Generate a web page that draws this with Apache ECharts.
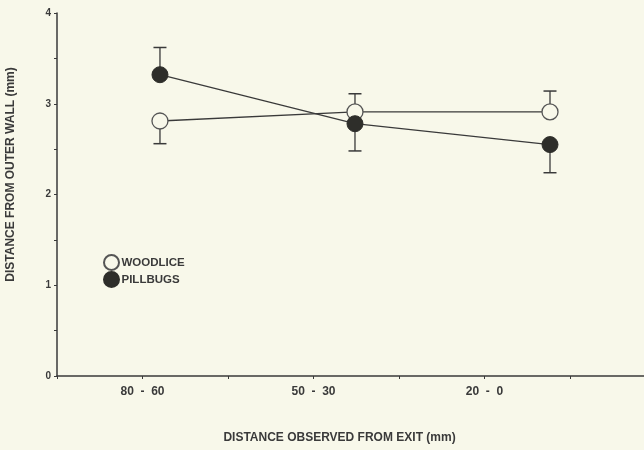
<!DOCTYPE html>
<html><head><meta charset="utf-8">
<script src="https://cdn.jsdelivr.net/npm/echarts@6/dist/echarts.min.js"></script>
<style>html,body{margin:0;padding:0;background:#f8f8ea}#c{width:644px;height:450px}</style>
</head><body><div id="c"></div><script>
const categories = ['80 - 60', '50 - 30', '20 - 0'];
const woodlice = [2.81, 2.91, 2.91];
const pillbugs = [3.32, 2.78, 2.55];
const woodliceErrEnd = [2.56, 3.11, 3.14];
const pillbugsErrEnd = [3.62, 2.48, 2.24];
const yTickLabels = ['0', '1', '2', '3', '4'];

const BG = '#f8f8ea';
const INK = '#3a3a3a';
const FONT = 'Liberation Sans, Arial, sans-serif';

function errData(vals, ends) { return vals.map((v, i) => [i, v, ends[i]]); }
function errRender(params, api) {
  const x = api.value(0);
  const p0 = api.coord([x, api.value(1)]);
  const p1 = api.coord([x, api.value(2)]);
  const cap = 6.5;
  return { type: 'group', children: [
    { type: 'line', shape: { x1: p0[0], y1: p0[1], x2: p1[0], y2: p1[1] }, style: { stroke: INK, lineWidth: 1.3 } },
    { type: 'line', shape: { x1: p1[0] - cap, y1: p1[1], x2: p1[0] + cap, y2: p1[1] }, style: { stroke: INK, lineWidth: 1.5 } }
  ]};
}

const chart = echarts.init(document.getElementById('c'));
chart.setOption({
  backgroundColor: BG,
  animation: false,
  textStyle: { fontFamily: FONT },
  grid: { left: 57, right: 0, top: 13, bottom: 74, containLabel: false, outerBoundsMode: 'none' },
  legend: {
    data: ['WOODLICE', 'PILLBUGS'], orient: 'vertical', left: 103, top: 254, padding: 0,
    icon: 'circle', itemWidth: 16, itemHeight: 15, itemGap: 0,
    textStyle: { fontFamily: FONT, fontWeight: 'bold', fontSize: 11.5, color: INK, padding: [0, 0, 0, -3] }
  },
  xAxis: [
    {
      type: 'value', min: -0.5, max: 2.933, interval: 0.5,
      name: 'DISTANCE OBSERVED FROM EXIT (mm)', nameLocation: 'middle', nameGap: 56,
      nameTextStyle: { fontFamily: FONT, fontWeight: 'bold', fontSize: 12, color: INK, padding: [0, 22, 0, 0] },
      axisLine: { onZero: false, lineStyle: { color: INK, width: 1.5 } },
      axisTick: { length: 3, lineStyle: { color: INK } },
      splitLine: { show: false },
      axisLabel: {
        margin: 10, fontFamily: FONT, fontWeight: 'bold', fontSize: 12, color: INK,
        formatter: v => Number.isInteger(v) && categories[v] ? categories[v].replace(/ /g, '  ') : ''
      }
    },
    { type: 'value', min: -0.528, max: 2.482, show: false }
  ],
  yAxis: {
    type: 'value', min: 0, max: 4, interval: 0.5,
    name: 'DISTANCE FROM OUTER WALL (mm)', nameLocation: 'middle', nameGap: 40,
    nameTextStyle: { fontFamily: FONT, fontWeight: 'bold', fontSize: 12, color: INK, padding: [0, 0, 0, 40] },
    axisLine: { show: true, onZero: false, lineStyle: { color: INK, width: 1.5 } },
    axisTick: { show: true, length: 3, lineStyle: { color: INK } },
    splitLine: { show: false },
    axisLabel: {
      margin: 6, fontFamily: FONT, fontWeight: 'bold', fontSize: 10, color: INK,
      formatter: v => Number.isInteger(v) ? yTickLabels[v] : ''
    }
  },
  series: [
    { type: 'custom', xAxisIndex: 1, renderItem: errRender, data: errData(woodlice, woodliceErrEnd), z: 1 },
    { type: 'custom', xAxisIndex: 1, renderItem: errRender, data: errData(pillbugs, pillbugsErrEnd), z: 1 },
    {
      name: 'WOODLICE', type: 'line', xAxisIndex: 1, z: 2,
      data: woodlice.map((v, i) => [i, v]),
      symbol: 'circle', symbolSize: 16,
      lineStyle: { color: INK, width: 1.3 },
      itemStyle: { color: BG, borderColor: '#555', borderWidth: 1.3 }
    },
    {
      name: 'PILLBUGS', type: 'line', xAxisIndex: 1, z: 3,
      data: pillbugs.map((v, i) => [i, v]),
      symbol: 'circle', symbolSize: 16,
      lineStyle: { color: INK, width: 1.3 },
      itemStyle: { color: '#2e2e2a', borderColor: '#2e2e2a', borderWidth: 1 }
    }
  ]
});
</script></body></html>
